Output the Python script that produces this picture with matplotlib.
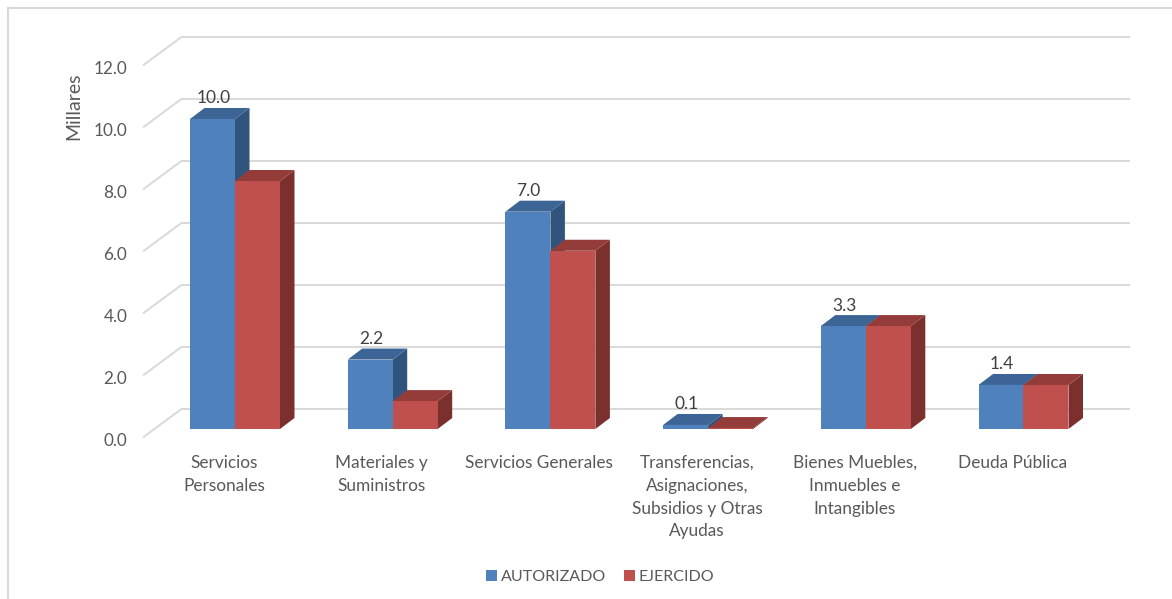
import matplotlib.pyplot as plt
from matplotlib.patches import Polygon, Patch
from matplotlib.lines import Line2D

plt.rcParams['font.family'] = ['Lato', 'DejaVu Sans']

# Data (Millares)
categorias = ['Servicios\nPersonales', 'Materiales y\nSuministros', 'Servicios Generales',
              'Transferencias,\nAsignaciones,\nSubsidios y Otras\nAyudas',
              'Bienes Muebles,\nInmuebles e\nIntangibles', 'Deuda Pública']
autorizado = [10.0, 2.24, 7.01, 0.13, 3.32, 1.42]
ejercido = [8.0, 0.90, 5.75, 0.03, 3.32, 1.42]
etiquetas = ['10.0', '2.2', '7.0', '0.1', '3.3', '1.4']
yticks = [0, 2, 4, 6, 8, 10, 12]
series = ['AUTORIZADO', 'EJERCIDO']

# colours: front, top, side
azul = ('#4F81BD', '#3C6494', '#31547D')
rojo = ('#C0504D', '#943C3A', '#7C302E')
gris_txt = '#595959'
gris_lin = '#D9D9D9'

fig = plt.figure(figsize=(11.72, 5.99), dpi=100)
ax = fig.add_axes([0.10632, 0.23205, 0.86116, 0.75042])
ax.set_xlim(-0.7, 5.7)
ax.set_ylim(-1.0, 13.5)
ax.axis('off')

w = 0.2853          # bar width (category units)
ddx, ddy = 0.092, 0.355   # bar depth
fx, fy = -0.583, -0.27    # front plane
bx, by = -0.336, 0.66     # back wall
wall_right = 5.675

# walls / grid
for v in yticks:
    ax.plot([fx, bx], [v + fy, v + by], color=gris_lin, lw=1.4, zorder=1,
            solid_capstyle='butt', clip_on=False)
    ax.plot([bx, wall_right], [v + by, v + by], color=gris_lin, lw=1.4, zorder=1,
            solid_capstyle='butt', clip_on=False)
    ax.text(fx - 0.1, v + fy - 0.13, f'{v:.1f}', ha='right', va='center', fontsize=12.3,
            color=gris_txt)


def bar3d(x0, h, cols, z):
    ax.add_patch(Polygon([(x0 + w, 0), (x0 + w + ddx, ddy), (x0 + w + ddx, h + ddy), (x0 + w, h)],
                         closed=True, facecolor=cols[2], edgecolor='none', zorder=z))
    ax.add_patch(Polygon([(x0, h), (x0 + w, h), (x0 + w + ddx, h + ddy), (x0 + ddx, h + ddy)],
                         closed=True, facecolor=cols[1], edgecolor='none', zorder=z))
    ax.bar(x0, h, w, align='edge', color=cols[0], edgecolor='none', zorder=z + 0.5)


for i in range(len(categorias)):
    bar3d(i - w, autorizado[i], azul, 3)
    bar3d(i, ejercido[i], rojo, 4)
    ax.text(i - w / 2 + 0.005, autorizado[i] + ddy + 0.05, etiquetas[i], ha='center',
            va='bottom', fontsize=12.5, color='#404040', zorder=6)
    ax.text(i - 0.07, -0.84, categorias[i], ha='center', va='top', fontsize=12.4,
            color=gris_txt, linespacing=1.52)

ax.text(-1.02, 10.42, 'Millares', rotation=90, ha='center', va='center', fontsize=14,
        color=gris_txt)

handles = [Patch(facecolor=azul[0], label=series[0]), Patch(facecolor=rojo[0], label=series[1])]
fig.legend(handles=handles, loc='center', bbox_to_anchor=(600 / 1172, 1 - 577 / 599), ncol=2,
           frameon=False, fontsize=11.5, handlelength=0.7, handleheight=0.7,
           handletextpad=0.25, columnspacing=1.1, labelcolor=gris_txt)

# chart border
fig.add_artist(Line2D([7.5 / 1172, 7.5 / 1172], [0, 1 - 7.5 / 599], color=gris_lin, lw=1.5))
fig.add_artist(Line2D([7.5 / 1172, 1], [1 - 7.5 / 599, 1 - 7.5 / 599], color=gris_lin, lw=1.5))

fig.savefig('out.png', dpi=100)
